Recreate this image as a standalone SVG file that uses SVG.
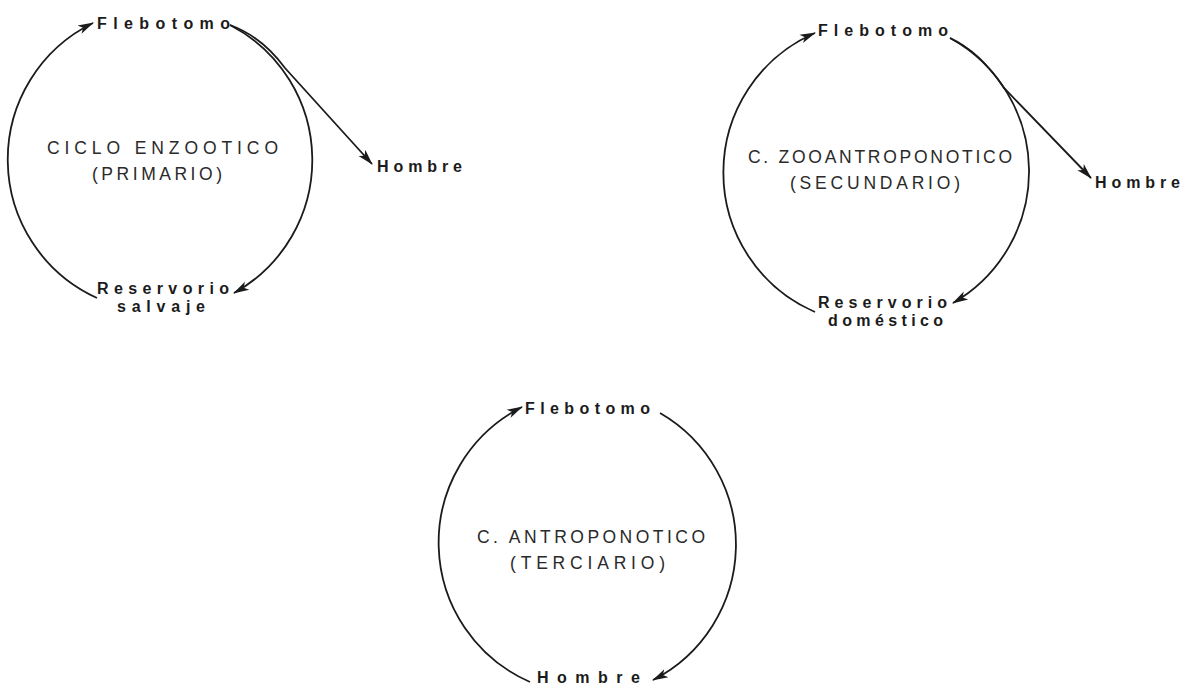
<svg xmlns="http://www.w3.org/2000/svg" width="1190" height="690" viewBox="0 0 1190 690">
<style>
.arc{fill:none;stroke:#1b1b1b;stroke-width:1.8}
.lbl{font-family:"Liberation Sans",Arial,sans-serif;font-weight:bold;font-size:16px;fill:#1b1b1b}
.cyc{font-family:"Liberation Sans",Arial,sans-serif;font-size:17.5px;fill:#2a2a2a}
</style>
<defs>
<marker id="ah" markerUnits="userSpaceOnUse" markerWidth="16" markerHeight="12" viewBox="0 0 16 12" refX="15" refY="6" orient="auto">
<path d="M0,1.5 L16,6 L0,10.5 L4,6 Z" fill="#1b1b1b"/>
</marker>
</defs>
<rect width="1190" height="690" fill="#ffffff"/>
<g id="connectors">
<path class="arc" d="M97,298 A152,152 0 0 1 93,23" marker-end="url(#ah)"/>
<path class="arc" d="M230,25 A152,152 0 0 1 234,293" marker-end="url(#ah)"/>
<path class="arc" d="M230,25 C252,33 270,48 285,68 L372,164" marker-end="url(#ah)"/>
<path class="arc" d="M815,312 A152,152 0 0 1 815,33" marker-end="url(#ah)"/>
<path class="arc" d="M950,38 A152,152 0 0 1 953,303" marker-end="url(#ah)"/>
<path class="arc" d="M950,38 C972,48 990,67 1004,88 L1091,178" marker-end="url(#ah)"/>
<path class="arc" d="M530,682 A152,152 0 0 1 522,407" marker-end="url(#ah)"/>
<path class="arc" d="M660,413 A152,152 0 0 1 653,680" marker-end="url(#ah)"/>
</g>
<g id="cycle1">
<text class="cyc" x="47" y="154" textLength="231" lengthAdjust="spacing">CICLO ENZOOTICO</text>
<text class="cyc" x="92" y="180" textLength="130" lengthAdjust="spacing">(PRIMARIO)</text>
</g>
<g id="flebotomo1"><text class="lbl" x="97" y="29" textLength="133" lengthAdjust="spacing">Flebotomo</text></g>
<g id="hombre1"><text class="lbl" x="377" y="172" textLength="85" lengthAdjust="spacing">Hombre</text></g>
<g id="reservorio1">
<text class="lbl" x="97" y="294" textLength="132" lengthAdjust="spacing">Reservorio</text>
<text class="lbl" x="117" y="312" textLength="88" lengthAdjust="spacing">salvaje</text>
</g>
<g id="cycle2">
<text class="cyc" x="748" y="163" textLength="264" lengthAdjust="spacing">C. ZOOANTROPONOTICO</text>
<text class="cyc" x="790" y="189" textLength="170" lengthAdjust="spacing">(SECUNDARIO)</text>
</g>
<g id="flebotomo2"><text class="lbl" x="818" y="36" textLength="130" lengthAdjust="spacing">Flebotomo</text></g>
<g id="hombre2"><text class="lbl" x="1095" y="188" textLength="85" lengthAdjust="spacing">Hombre</text></g>
<g id="reservorio2">
<text class="lbl" x="818" y="308" textLength="129" lengthAdjust="spacing">Reservorio</text>
<text class="lbl" x="828" y="326" textLength="115" lengthAdjust="spacing">doméstico</text>
</g>
<g id="cycle3">
<text class="cyc" x="477" y="543" textLength="228" lengthAdjust="spacing">C. ANTROPONOTICO</text>
<text class="cyc" x="510" y="569" textLength="155" lengthAdjust="spacing">(TERCIARIO)</text>
</g>
<g id="flebotomo3"><text class="lbl" x="525" y="414" textLength="125" lengthAdjust="spacing">Flebotomo</text></g>
<g id="hombre3"><text class="lbl" x="537" y="683" textLength="103" lengthAdjust="spacing">Hombre</text></g>
</svg>
